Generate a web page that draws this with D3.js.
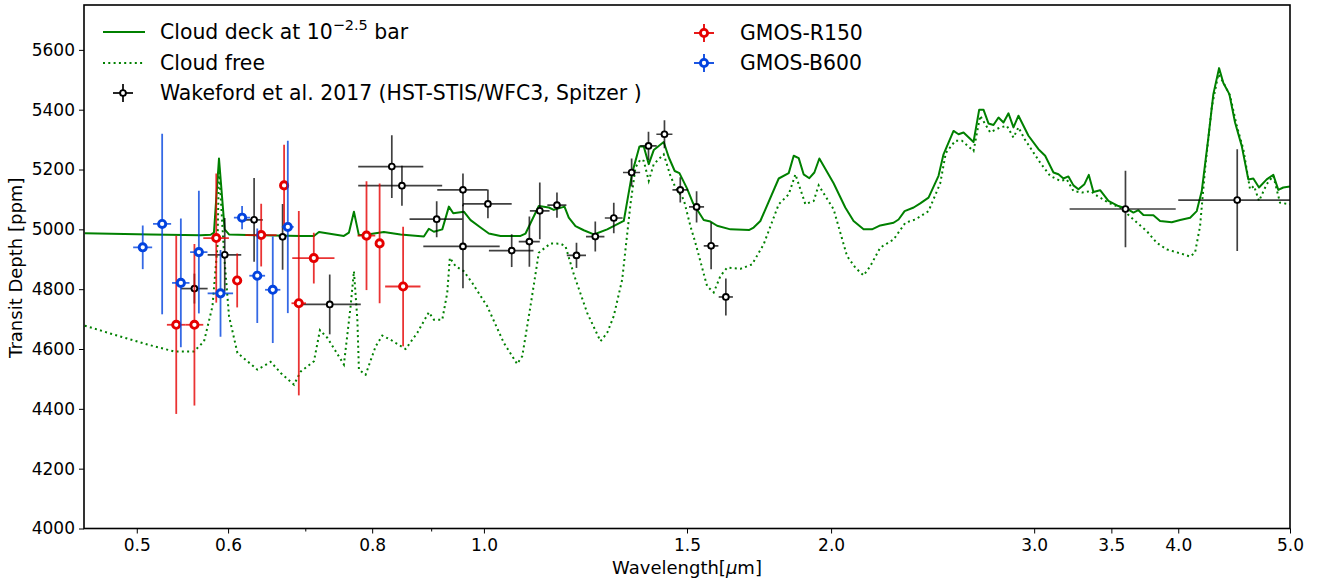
<!DOCTYPE html>
<html><head><meta charset="utf-8">
<script src="https://cdn.jsdelivr.net/npm/d3@7"></script>
<style>body{margin:0;background:#fff}svg{display:block}text{font-family:"DejaVu Sans",sans-serif}</style>
</head><body><svg id="c" width="1322" height="581"></svg>
<script>
// ---- model: cloud deck at 10^-2.5 bar ----
const cloudWave=[0.4507,0.514,0.568,0.5795,0.5833,0.5892,0.5959,0.6011,0.6404,0.6937,
0.7122,0.7194,0.7561,0.7637,0.7714,0.7791,0.7923,0.8189,0.8466,0.8870,
0.8959,0.9049,0.9202,0.9324,0.9406,0.9607,0.9737,0.9933,1.0099,1.0337,
1.0758,1.0866,1.1158,1.1383,1.1497,1.1745,1.1846,1.2006,1.2206,1.2453,
1.2790,1.3221,1.3444,1.3641,1.3759,1.3897,1.4036,1.4319,1.4463,1.4637,
1.4775,1.5003,1.5184,1.5509,1.5717,1.5929,1.6357,1.6989,1.7135,1.7366,
1.8015,1.8378,1.8562,1.8748,1.8933,1.9150,1.9343,1.9537,2.0101,2.0575,
2.0919,2.1341,2.1702,2.2064,2.2658,2.2885,2.3163,2.3586,2.3897,2.4296,
2.4786,2.5034,2.5539,2.5796,2.6054,2.6579,2.6882,2.7113,2.7385,2.7660,
2.7938,2.8218,2.8501,2.8787,2.9075,2.9662,3.0259,3.0666,3.1179,3.1491,
3.1807,3.2125,3.2447,3.2772,3.3167,3.3459,3.3769,3.4223,3.4795,3.5494,
3.6095,3.6574,3.6941,3.7312,3.8064,3.8576,3.9488,4.0152,4.0962,4.1507,
4.1923,4.2479,4.2905,4.3397,4.3771,4.4298,4.4805,4.5405,4.6007,4.6469,
4.7001,4.7728,4.8361,4.8847,4.9336,5.0];
const cloudDepth=[4987,4983,4980,4982,4989,5237,5000,4983,4980,4978,
4978,4991,4978,4989,5059,4980,4983,4991,4983,4976,
5002,4992,5000,5076,5054,5059,5031,5006,4986,4978,
4978,4986,5078,5073,5065,5076,5039,5011,4997,4983,
5000,5028,5188,5277,5277,5218,5265,5292,5241,5195,
5188,5136,5087,5031,5026,5012,5000,4998,5006,5028,
5170,5188,5246,5238,5184,5171,5190,5237,5154,5073,
5028,5000,5000,5013,5022,5033,5061,5073,5087,5106,
5179,5251,5329,5318,5324,5292,5400,5400,5354,5349,
5374,5357,5388,5341,5380,5313,5268,5246,5190,5184,
5170,5177,5147,5134,5151,5182,5125,5131,5095,5078,
5069,5056,5064,5048,5047,5028,5024,5031,5039,5061,
5128,5307,5452,5539,5489,5452,5357,5279,5167,5170,
5140,5167,5182,5132,5140,5143];

// ---- model: cloud free ----
const freeWave=[0.4507,0.4779,0.5108,0.5386,0.5606,0.5719,0.5816,0.5874,0.5892,0.5951,
0.6011,0.6113,0.6362,0.6533,0.6665,0.6844,0.6937,0.7122,0.7208,0.7316,
0.7561,0.7663,0.7714,0.7767,0.7791,0.7896,0.8056,0.8164,0.8299,0.8553,
0.8754,0.8959,0.9049,0.9202,0.9294,0.9342,0.9449,0.9607,0.9769,1.0066,
1.0407,1.0686,1.0795,1.0974,1.1158,1.1421,1.1651,1.1768,1.1968,1.2289,
1.2620,1.2790,1.2959,1.3179,1.3399,1.3534,1.3669,1.3759,1.3897,1.4036,
1.4319,1.4512,1.4657,1.4902,1.5102,1.5254,1.5614,1.5821,1.6035,1.6251,
1.6688,1.7081,1.7481,1.8015,1.8378,1.8625,1.8999,1.9316,1.9510,2.0101,
2.0646,2.0992,2.1341,2.1629,2.2064,2.2658,2.3196,2.3667,2.4296,2.4870,
2.5147,2.5627,2.5970,2.6579,2.6936,2.7205,2.7478,2.8032,2.8410,2.8787,
2.9075,2.9443,3.0362,3.0973,3.1599,3.2023,3.2447,3.3020,3.3571,3.4024,
3.4795,3.5636,3.6574,3.7566,3.8324,3.9095,4.0152,4.0962,4.1365,4.1782,
4.2199,4.2768,4.3337,4.3771,4.4360,4.4956,4.5551,4.6165,4.6533,4.7001,
4.7728,4.8361,4.9012,5.0];
const freeDepth=[4678,4648,4615,4592,4592,4626,4743,4944,5208,4922,
4710,4587,4531,4557,4520,4481,4525,4559,4663,4637,
4548,4743,4860,4698,4531,4514,4609,4645,4631,4600,
4654,4723,4698,4698,4788,4905,4877,4860,4821,4743,
4620,4550,4576,4743,4922,4953,4952,4944,4849,4721,
4626,4654,4710,4832,5084,5207,5234,5229,5162,5218,
5251,5179,5140,5100,5011,4955,4810,4789,4844,4872,
4868,4883,4950,5084,5117,5184,5084,5095,5147,5067,
4911,4872,4846,4877,4939,4966,5022,5033,5061,5154,
5255,5296,5296,5262,5380,5352,5324,5341,5346,5307,
5341,5301,5223,5179,5162,5167,5128,5123,5128,5112,
5089,5073,5033,4994,4955,4933,4920,4909,4922,5011,
5201,5408,5519,5491,5447,5346,5268,5134,5145,5095,
5151,5179,5089,5084];

// ---- Wakeford et al. 2017 ----
const wakeWave=[0.561,0.596,0.632,0.669,0.735,0.832,0.849,0.910,0.959,0.959,1.008,1.057,1.095,1.118,1.157,1.203,1.249,1.296,1.343,1.389,1.434,1.480,1.529,1.574,1.621,3.6,4.5];
const wakeWaveErr=[0.015,0.020,0.011,0.005,0.047,0.054,0.071,0.048,0.048,0.073,0.049,0.047,0.023,0.022,0.022,0.023,0.023,0.023,0.023,0.023,0.023,0.023,0.023,0.023,0.023,0.38,0.5];
const wakeDepth=[4802,4915,5032,4975,4749,5210,5146,5034,5132,4943,5085,4929,4959,5062,5081,4913,4976,5038,5190,5279,5318,5132,5075,4945,4774,5068,5098];
const wakeErr=[50,123,140,110,100,105,67,60,55,140,48,55,84,95,42,42,50,51,47,47,47,42,52,78,62,128,170];

// ---- GMOS-R150 ----
const redWave=[0.541,0.561,0.586,0.611,0.641,0.671,0.691,0.712,0.791,0.812,0.851];
const redWaveErr=[0.010,0.010,0.015,0.006,0.020,0.005,0.010,0.030,0.014,0.007,0.030];
const redDepth=[4681,4681,4971,4829,4981,5147,4753,4904,4979,4953,4809];
const redErr=[298,270,216,90,105,136,308,85,182,200,200];

// ---- GMOS-B600 ----
const blueWave=[0.506,0.526,0.546,0.566,0.591,0.617,0.636,0.656,0.676];
const blueWaveErr=[0.0096,0.0095,0.0095,0.0098,0.015,0.010,0.010,0.010,0.008];
const blueDepth=[4940,5018,4821,4924,4786,5039,4845,4798,5008];
const blueErr=[73,302,215,205,145,39,158,178,288];

// ---- ticks ----
const xTicks=[0.5,0.6,0.8,1.0,1.5,2.0,3.0,3.5,4.0,5.0];
const xMinorTicks=[0.7,0.9];
const yTicks=[4000,4200,4400,4600,4800,5000,5200,5400,5600];

const m={l:84,r:1290,t:5,b:528.5};
const x=d3.scaleLog().domain([0.45,5.0]).range([m.l,m.r]);
const y=d3.scaleLinear().domain([4000,5750]).range([m.b,m.t]);
const svg=d3.select("#c");

svg.append("defs").append("clipPath").attr("id","clip").append("rect")
  .attr("x",m.l).attr("y",m.t).attr("width",m.r-m.l).attr("height",m.b-m.t);
const plot=svg.append("g").attr("clip-path","url(#clip)");

const GREEN="#008000";
const line=d3.line().x(d=>x(d[0])).y(d=>y(d[1]));
plot.append("path").datum(d3.zip(freeWave,freeDepth)).attr("d",line)
  .attr("fill","none").attr("stroke",GREEN).attr("stroke-width",2).attr("stroke-dasharray","2,3.3");
plot.append("path").datum(d3.zip(cloudWave,cloudDepth)).attr("d",line)
  .attr("fill","none").attr("stroke",GREEN).attr("stroke-width",2).attr("stroke-linejoin","round");

function errSeries(wave,werr,depth,derr,color,r,msw,lw,op){
  const data=wave.map((w,i)=>({w,we:werr[i],d:depth[i],de:derr[i]}));
  const gg=plot.append("g");
  gg.selectAll("line.h").data(data).join("line").attr("class","h")
    .attr("x1",d=>x(d.w-d.we)).attr("x2",d=>x(d.w+d.we)).attr("y1",d=>y(d.d)).attr("y2",d=>y(d.d))
    .attr("stroke",color).attr("stroke-width",lw).attr("stroke-opacity",op);
  gg.selectAll("line.v").data(data).join("line").attr("class","v")
    .attr("x1",d=>x(d.w)).attr("x2",d=>x(d.w)).attr("y1",d=>y(d.d-d.de)).attr("y2",d=>y(d.d+d.de))
    .attr("stroke",color).attr("stroke-width",lw).attr("stroke-opacity",op);
  gg.selectAll("circle").data(data).join("circle")
    .attr("cx",d=>x(d.w)).attr("cy",d=>y(d.d)).attr("r",r)
    .attr("fill","#fff").attr("stroke",color).attr("stroke-width",msw);
}
const RED="#e50000", BLUE="#0343df";
errSeries(wakeWave,wakeWaveErr,wakeDepth,wakeErr,"#000",2.9,1.9,1.7,0.75);
errSeries(redWave,redWaveErr,redDepth,redErr,RED,3.6,2.9,1.8,0.8);
errSeries(blueWave,blueWaveErr,blueDepth,blueErr,BLUE,3.6,2.9,1.8,0.8);

// axes
svg.append("g").attr("transform",`translate(0,${m.b})`)
  .call(d3.axisBottom(x).tickValues(xTicks).tickFormat(d3.format(".1f")).tickSize(5).tickPadding(5));
svg.append("g").attr("transform",`translate(0,${m.b})`)
  .call(d3.axisBottom(x).tickValues(xMinorTicks).tickFormat("").tickSize(3));
svg.append("g").attr("transform",`translate(${m.l},0)`)
  .call(d3.axisLeft(y).tickValues(yTicks).tickFormat(d3.format("d")).tickSize(5).tickPadding(4));
svg.selectAll(".domain").remove();
svg.selectAll(".tick text").attr("font-size",17).attr("font-family","DejaVu Sans").attr("fill","#000");
svg.selectAll(".tick line").attr("stroke","#000").attr("stroke-width",1);

svg.append("rect").attr("x",m.l).attr("y",m.t).attr("width",m.r-m.l).attr("height",m.b-m.t)
  .attr("fill","none").attr("stroke","#000").attr("stroke-width",1.6);

svg.append("text").attr("x",(m.l+m.r)/2).attr("y",574).attr("text-anchor","middle").attr("font-size",18)
  .html('Wavelength[<tspan font-style="italic">μ</tspan>m]');
svg.append("text").attr("transform",`translate(21.5,${(m.t+m.b)/2+1}) rotate(-90)`).attr("text-anchor","middle")
  .attr("font-size",18).text("Transit Depth [ppm]");

// legend
const lg=svg.append("g");
lg.append("line").attr("x1",103).attr("x2",145).attr("y1",32).attr("y2",32).attr("stroke",GREEN).attr("stroke-width",2);
lg.append("line").attr("x1",103).attr("x2",145).attr("y1",63).attr("y2",63).attr("stroke",GREEN).attr("stroke-width",2).attr("stroke-dasharray","2,3.3");
function legMark(cx,cy,color,r,msw,lw){
  lg.append("line").attr("x1",cx-10).attr("x2",cx+10).attr("y1",cy).attr("y2",cy).attr("stroke",color).attr("stroke-width",lw);
  lg.append("line").attr("x1",cx).attr("x2",cx).attr("y1",cy-9).attr("y2",cy+9).attr("stroke",color).attr("stroke-width",lw);
  lg.append("circle").attr("cx",cx).attr("cy",cy).attr("r",r).attr("fill","#fff").attr("stroke",color).attr("stroke-width",msw);
}
legMark(123,93,"#000",2.9,1.9,1.7);
legMark(704,33,RED,3.6,2.9,1.8);
legMark(704,63,BLUE,3.6,2.9,1.8);
const FS=20.4;
const t1=lg.append("text").attr("x",160).attr("y",39).attr("font-size",FS);
t1.append("tspan").text("Cloud deck at 10");
t1.append("tspan").attr("font-size",14.5).attr("dy",-9).text("−2.5");
t1.append("tspan").attr("dy",9).text(" bar");
lg.append("text").attr("x",160).attr("y",70).attr("font-size",FS).text("Cloud free");
lg.append("text").attr("x",160).attr("y",100).attr("font-size",FS).text("Wakeford et al. 2017 (HST-STIS/WFC3, Spitzer )");
lg.append("text").attr("x",740).attr("y",40).attr("font-size",FS).text("GMOS-R150");
lg.append("text").attr("x",740).attr("y",70).attr("font-size",FS).text("GMOS-B600");
</script></body></html>
